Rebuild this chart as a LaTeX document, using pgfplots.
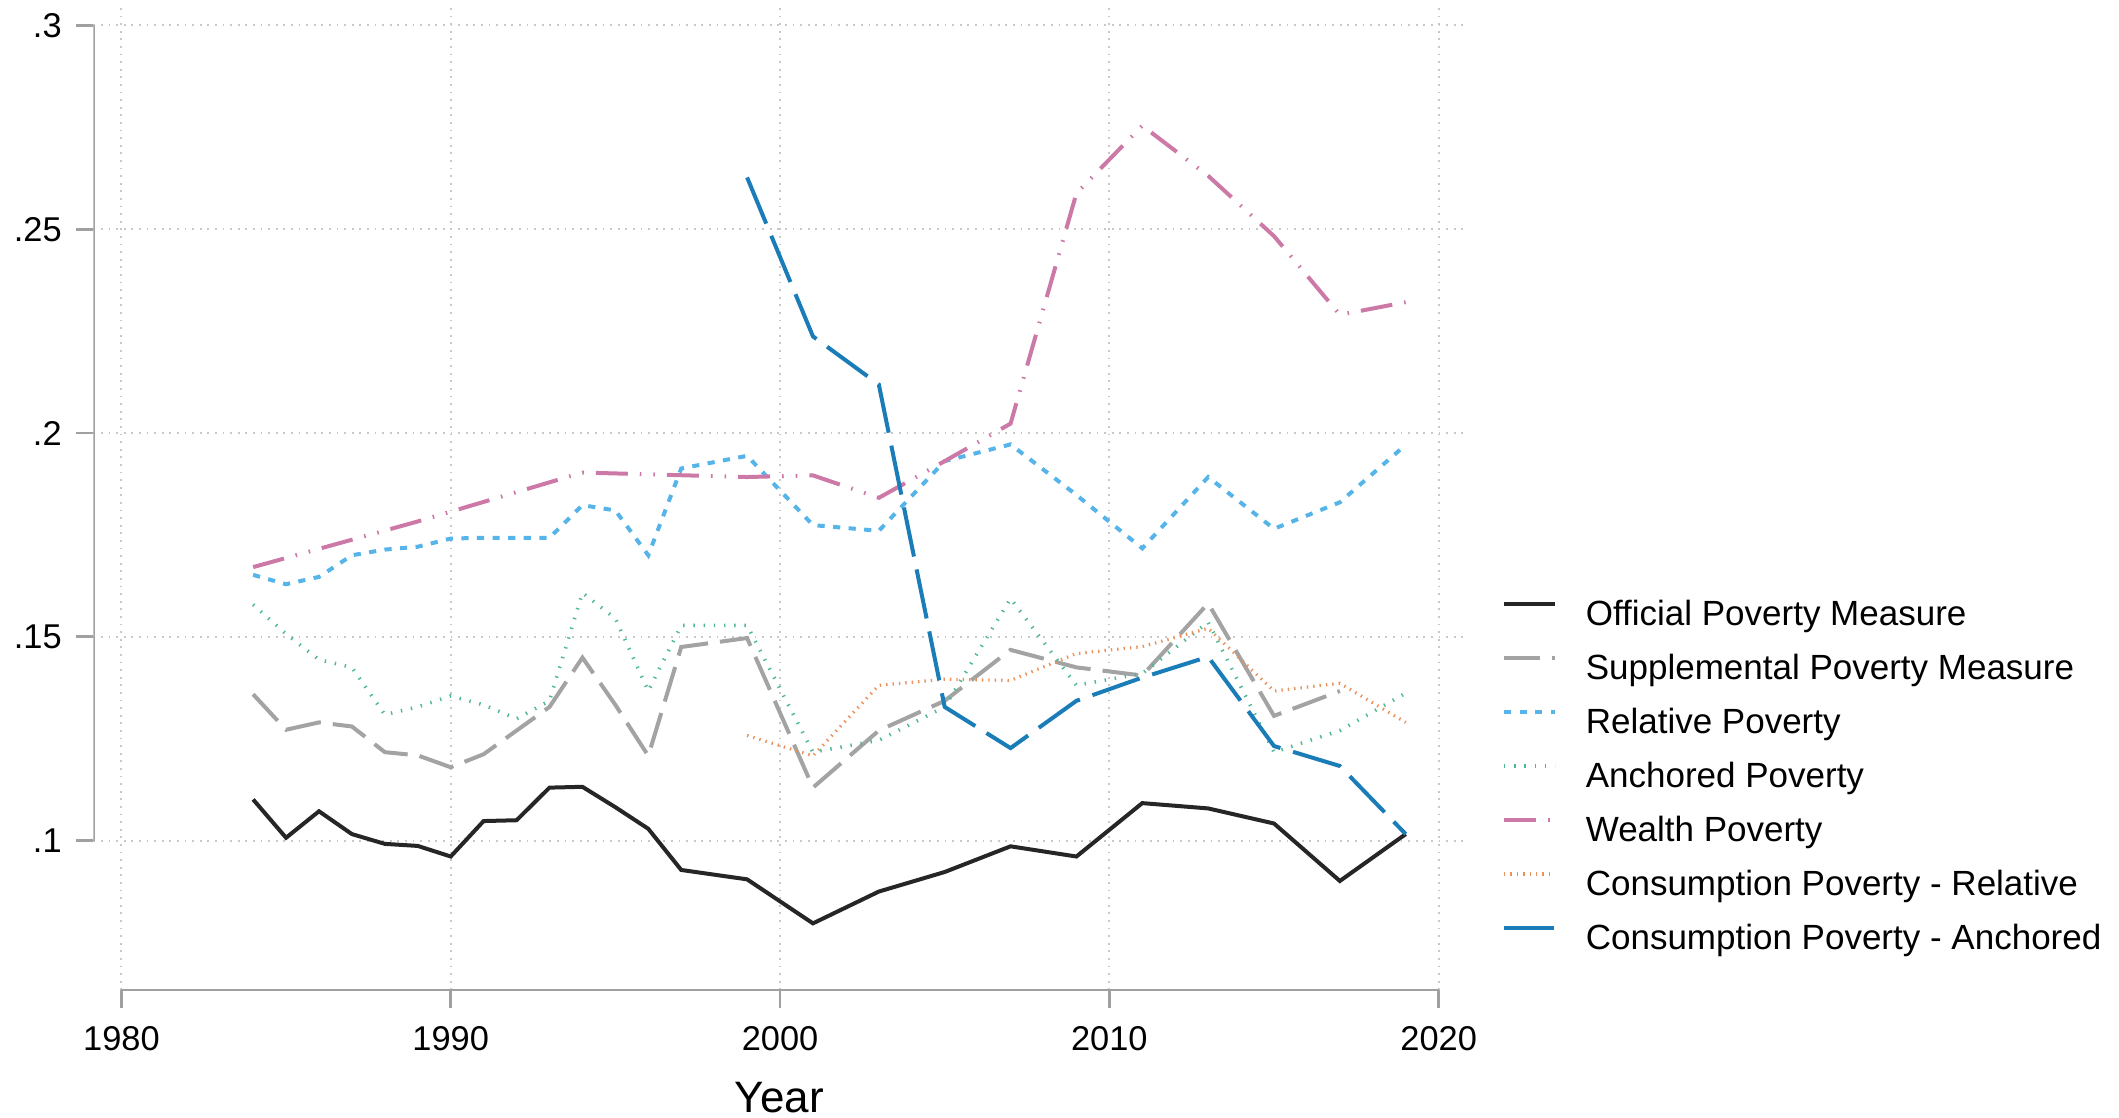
\documentclass[border=0pt]{standalone}
\usepackage{pgfplots}
\pgfplotsset{compat=1.18}
\usepackage{fontspec}
\setmainfont{Liberation Sans}
\definecolor{cblack}{HTML}{262626}
\definecolor{cgray}{HTML}{A3A3A3}
\definecolor{csky}{HTML}{56B4E9}
\definecolor{cturq}{HTML}{4DB894}
\definecolor{creddish}{HTML}{CC79A7}
\definecolor{cverm}{HTML}{E8915A}
\definecolor{csea}{HTML}{1A7DB8}
\definecolor{caxis}{HTML}{A0A0A0}
\definecolor{cgrid}{HTML}{C8C8C8}
\begin{document}
\begin{tikzpicture}
\path[use as bounding box] (-23.35pt,-31.7pt) rectangle (506.4pt,247.55pt);
\begin{axis}[
  at={(0pt,0pt)}, anchor=south west,
  scale only axis, width=342.9pt, height=246.3pt,
  xmin=1979.15, xmax=2020.8, ymin=0.0633, ymax=0.305,
  axis line style={draw=none},
  xtick={1980,1990,2000,2010,2020},
  xticklabels={1980,1990,2000,2010,2020},
  ytick={0.1,0.15,0.2,0.25,0.3},
  yticklabels={.1,.15,.2,.25,.3},
  xtick pos=bottom, ytick pos=left,
  tick align=outside, major tick length=4.4pt,
  tick style={caxis, line width=0.7pt},
  ticklabel style={font=\fontsize{8.6}{10}\selectfont, text=black},
  xticklabel style={yshift=-1.2pt},
  grid=major,
  major grid style={cgrid, line width=0.5pt, dash pattern=on 0.45pt off 1.45pt},
  xlabel={Year},
  xlabel style={font=\fontsize{11}{13}\selectfont, yshift=-1pt},
  legend cell align=left,
  legend style={at={(axis description cs:1.027,0.4072)}, anchor=north west,
    draw=none, fill=none, inner sep=0pt, outer sep=0pt, row sep=0pt, column sep=7.2pt,
    font=\fontsize{8.75}{10}\selectfont,
    nodes={inner sep=0pt, outer sep=0pt, text height=9pt, text depth=4.5pt}},
  legend image code/.code={\draw[#1] (0pt,3pt) -- (12.75pt,3pt);},
]
\draw[caxis, line width=0.7pt] (axis cs:1980,0.0633) -- (axis cs:2020,0.0633);
\draw[caxis, line width=0.7pt] (axis cs:1979.15,0.1) -- (axis cs:1979.15,0.3);

\addplot[cblack, line width=1pt] coordinates {
(1984,0.1101) (1985,0.1007) (1986,0.1072) (1987,0.1016) (1988,0.0992) (1989,0.0987)
(1990,0.0961) (1991,0.1048) (1992,0.1050) (1993,0.1130) (1994,0.1132) (1995,0.1082)
(1996,0.1029) (1997,0.0928) (1999,0.0905) (2001,0.0797) (2003,0.0875) (2005,0.0923)
(2007,0.0986) (2009,0.0961) (2011,0.1092) (2013,0.1079) (2015,0.1042) (2017,0.0901)
(2019,0.1016)};
\addlegendentry{Official Poverty Measure}

\addplot[cgray, line width=1pt, dash pattern=on 9pt off 3pt] coordinates {
(1984,0.1359) (1985,0.1272) (1986,0.1290) (1987,0.1280) (1988,0.1217) (1989,0.1209)
(1990,0.1180) (1991,0.1212) (1992,0.1270) (1993,0.1328) (1994,0.1449) (1995,0.1333)
(1996,0.1208) (1997,0.1475) (1999,0.1497) (2001,0.1130) (2003,0.1270) (2005,0.1343)
(2007,0.1468) (2009,0.1425) (2011,0.1405) (2013,0.1582) (2015,0.1306) (2017,0.1367)};
\addlegendentry{Supplemental Poverty Measure}

\addplot[csky, line width=1pt, dash pattern=on 1.8pt off 2.1pt] coordinates {
(1984,0.1652) (1985,0.1629) (1986,0.1647) (1987,0.1700) (1988,0.1714) (1989,0.1721)
(1990,0.1741) (1991,0.1743) (1992,0.1743) (1993,0.1743) (1994,0.1823) (1995,0.1810)
(1996,0.1700) (1997,0.1913) (1999,0.1944) (2001,0.1774) (2003,0.1760) (2005,0.1931)
(2007,0.1972) (2009,0.1848) (2011,0.1717) (2013,0.1892) (2015,0.1765) (2017,0.1830)
(2019,0.1971)};
\addlegendentry{Relative Poverty}

\addplot[cturq, line width=0.9pt, dash pattern=on 0.35pt off 2.2pt] coordinates {
(1984,0.1579) (1985,0.1507) (1986,0.1444) (1987,0.1425) (1988,0.1309) (1989,0.1328)
(1990,0.1355) (1991,0.1333) (1992,0.1299) (1993,0.1343) (1994,0.1608) (1995,0.1545)
(1996,0.1367) (1997,0.1528) (1999,0.1528) (2001,0.1217) (2003,0.1246) (2005,0.1328)
(2007,0.1594) (2009,0.1381) (2011,0.1410) (2013,0.1536) (2015,0.1217) (2017,0.1270)
(2019,0.1362)};
\addlegendentry{Anchored Poverty}

\addplot[creddish, line width=1pt, dash pattern=on 8pt off 3pt on 0.4pt off 3pt on 0.4pt off 3pt] coordinates {
(1984,0.1671) (1989,0.1783) (1994,0.1903) (1999,0.1892) (2001,0.1896) (2003,0.1841)
(2005,0.1931) (2007,0.2023) (2009,0.2588) (2011,0.2754) (2013,0.2631) (2015,0.2483)
(2017,0.2290) (2019,0.2321)};
\addlegendentry{Wealth Poverty}

\addplot[cverm, line width=0.8pt, dash pattern=on 0.35pt off 1.25pt] coordinates {
(1999,0.1258) (2001,0.1208) (2003,0.1381) (2005,0.1396) (2007,0.1393) (2009,0.1459)
(2011,0.1476) (2013,0.1521) (2015,0.1367) (2017,0.1386) (2019,0.1290)};
\addlegendentry{Consumption Poverty - Relative}

\addplot[csea, line width=1pt, dash pattern=on 12.5pt off 3.3pt] coordinates {
(1999,0.2627) (2001,0.2237) (2003,0.2119) (2005,0.1328) (2007,0.1227) (2009,0.1343)
(2011,0.1400) (2013,0.1451) (2015,0.1232) (2017,0.1183) (2019,0.1016)};
\addlegendentry{Consumption Poverty - Anchored}
\end{axis}
\end{tikzpicture}
\end{document}
